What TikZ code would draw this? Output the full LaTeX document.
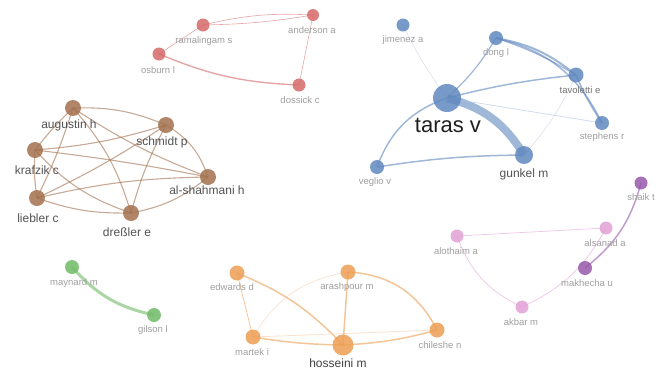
\documentclass[tikz,border=0pt]{standalone}
\usepackage{fontspec}
\setmainfont{Liberation Sans}
\usetikzlibrary{backgrounds}
\definecolor{redc}{RGB}{214,104,104}
\definecolor{bluec}{RGB}{96,136,190}
\definecolor{brownc}{RGB}{162,112,78}
\definecolor{pinkc}{RGB}{226,160,212}
\definecolor{purpc}{RGB}{150,88,170}
\definecolor{greenc}{RGB}{112,186,102}
\definecolor{orangec}{RGB}{236,158,84}
\begin{document}
\begin{tikzpicture}[x=1pt,y=-1pt,
    dot/.style={circle,inner sep=0pt,minimum size=#1,fill opacity=0.85},
    lab/.style={text=black!38,font=\fontsize{9.5}{10}\selectfont,inner sep=0pt},
    mid/.style={text=black!68,font=\fontsize{12}{13}\selectfont,inner sep=0pt},
    link/.style={line width=#1,opacity=0.6}]
\useasboundingbox (0,0) rectangle (655,373);

% red group
\node [dot=13pt,fill=redc] (ramalingam) at (203,25) {};
\node [dot=12pt,fill=redc] (anderson) at (313,15) {};
\node [dot=13pt,fill=redc] (osburn) at (159,54) {};
\node [dot=13pt,fill=redc] (dossick) at (299,85) {};
\node [lab] (ramalingam-l) at (204,41) {ramalingam s};
\node [lab] (anderson-l) at (312,30) {anderson a};
\node [lab] (osburn-l) at (158,70) {osburn l};
\node [lab] (dossick-l) at (300,100) {dossick c};

% blue group
\node [dot=28pt,fill=bluec] (taras) at (447,98) {};
\node [dot=18pt,fill=bluec] (gunkel) at (524,155) {};
\node [dot=13pt,fill=bluec] (jimenez) at (403,25) {};
\node [dot=14pt,fill=bluec] (dong) at (496,38) {};
\node [dot=15pt,fill=bluec] (tavoletti) at (576,75) {};
\node [dot=14pt,fill=bluec] (stephens) at (602,123) {};
\node [dot=14pt,fill=bluec] (veglio) at (377,167) {};
\node [inner sep=0pt,text=black!88,font=\fontsize{22}{24}\selectfont] (taras-l) at (448,125) {taras v};
\node [mid] (gunkel-l) at (524,174) {gunkel m};
\node [lab] (jimenez-l) at (403,40) {jimenez a};
\node [lab] (dong-l) at (496,53) {dong l};
\node [lab,text=black!55] (tavoletti-l) at (580,90) {tavoletti e};
\node [lab] (stephens-l) at (602,137) {stephens r};
\node [lab] (veglio-l) at (375,182) {veglio v};

% brown group
\node [dot=16pt,fill=brownc] (augustin) at (73,108) {};
\node [dot=16pt,fill=brownc] (schmidt) at (166,125) {};
\node [dot=16pt,fill=brownc] (krafzik) at (35,150) {};
\node [dot=16pt,fill=brownc] (alshahmani) at (208,177) {};
\node [dot=16pt,fill=brownc] (liebler) at (37,198) {};
\node [dot=16pt,fill=brownc] (dressler) at (131,213) {};
\node [mid] (augustin-l) at (69,125) {augustin h};
\node [mid] (schmidt-l) at (162,142) {schmidt p};
\node [mid] (krafzik-l) at (37,170) {krafzik c};
\node [mid] (alshahmani-l) at (207,190) {al-shahmani h};
\node [mid] (liebler-l) at (38,218) {liebler c};
\node [mid] (dressler-l) at (127,232) {dreßler e};

% pink and purple group
\node [dot=13pt,fill=purpc] (shaik) at (641,183) {};
\node [dot=13pt,fill=pinkc] (alsanad) at (606,228) {};
\node [dot=13pt,fill=pinkc] (alothaim) at (457,236) {};
\node [dot=14pt,fill=purpc] (makhecha) at (585,268) {};
\node [dot=13pt,fill=pinkc] (akbar) at (522,307) {};
\node [lab] (shaik-l) at (641,197) {shaik t};
\node [lab] (alsanad-l) at (605,243) {alsanad a};
\node [lab] (alothaim-l) at (456,251) {alothaim a};
\node [lab] (makhecha-l) at (587,283) {makhecha u};
\node [lab] (akbar-l) at (521,322) {akbar m};

% green group
\node [dot=14pt,fill=greenc] (maynard) at (72,267) {};
\node [dot=14pt,fill=greenc] (gilson) at (154,315) {};
\node [lab] (maynard-l) at (74,283) {maynard m};
\node [lab] (gilson-l) at (153,330) {gilson l};

% orange group
\node [dot=15pt,fill=orangec] (edwards) at (237,273) {};
\node [dot=15pt,fill=orangec] (arashpour) at (348,272) {};
\node [dot=15pt,fill=orangec] (martek) at (253,337) {};
\node [dot=21pt,fill=orangec] (hosseini) at (343,345) {};
\node [dot=15pt,fill=orangec] (chileshe) at (437,330) {};
\node [lab] (edwards-l) at (232,287) {edwards d};
\node [lab] (arashpour-l) at (347,287) {arashpour m};
\node [lab] (martek-l) at (252,352) {martek i};
\node [mid,text=black!75] (hosseini-l) at (338,363) {hosseini m};
\node [lab] (chileshe-l) at (440,345) {chileshe n};

\begin{scope}[on background layer]
  \draw [redc,link=0.6] (ramalingam.center) to[bend left=8] (anderson.center);
  \draw [redc,link=0.6] (ramalingam.center) to[bend right=4] (anderson.center);
  \draw [redc,link=0.6] (osburn.center) -- (ramalingam.center);
  \draw [redc,link=1.4] (osburn.center) to[bend right=10] (dossick.center);
  \draw [redc,link=0.6] (anderson.center) -- (dossick.center);

  \draw [bluec,link=8] (taras.center) to[bend left=22] (gunkel.center);
  \draw [bluec,link=1.5] (taras.center) to[bend right=25] (veglio.center);
  \draw [bluec,link=1.5] (veglio.center) to[bend left=4] (gunkel.center);
  \draw [bluec,link=1.2] (taras.center) to[bend right=8] (dong.center);
  \draw [bluec,link=1.5] (taras.center) to[bend left=4] (tavoletti.center);
  \draw [bluec!50,link=0.8] (taras.center) -- (stephens.center);
  \draw [bluec!40,link=0.6] (taras.center) to[bend left=5] (jimenez.center);
  \draw [bluec,link=2] (dong.center) to[bend left=14] (tavoletti.center);
  \draw [bluec,link=1.2] (dong.center) to[bend left=6] (tavoletti.center);
  \draw [bluec,link=1.5] (dong.center) to[bend left=25] (stephens.center);
  \draw [bluec,link=1.5] (tavoletti.center) to[bend right=5] (stephens.center);
  \draw [bluec!40,link=0.6] (gunkel.center) to[bend right=8] (tavoletti.center);

  \foreach \a/\b/\t in {augustin/schmidt/12,augustin/krafzik/-4,augustin/liebler/4,
      augustin/alshahmani/-6,augustin/dressler/12,schmidt/krafzik/6,
      schmidt/liebler/4,schmidt/dressler/-6,schmidt/alshahmani/20,
      krafzik/liebler/-6,krafzik/alshahmani/2,krafzik/dressler/-14,
      liebler/alshahmani/6,liebler/dressler/-10,dressler/alshahmani/-14}
    \draw [brownc,link=1.1] (\a.center) to[bend left=\t] (\b.center);

  \draw [pinkc,link=0.7] (alothaim.center) -- (alsanad.center);
  \draw [pinkc,link=0.7] (alothaim.center) to[bend right=22] (akbar.center);
  \draw [pinkc,link=0.7] (akbar.center) to[bend right=18] (alsanad.center);
  \draw [purpc,link=1.5] (makhecha.center) to[bend right=18] (shaik.center);

  \draw [greenc,link=3] (maynard.center) to[bend right=18] (gilson.center);

  \draw [orangec,link=0.8] (edwards.center) -- (martek.center);
  \draw [orangec,link=1.5] (edwards.center) to[bend left=12] (hosseini.center);
  \draw [orangec!50,link=0.7] (martek.center) to[bend left=25] (arashpour.center);
  \draw [orangec,link=1.5] (arashpour.center) -- (hosseini.center);
  \draw [orangec,link=1.5] (arashpour.center) to[bend left=30] (chileshe.center);
  \draw [orangec,link=1.5] (martek.center) to[bend right=4] (hosseini.center);
  \draw [orangec!50,link=0.8] (martek.center) -- (chileshe.center);
  \draw [orangec,link=1.5] (hosseini.center) to[bend right=6] (chileshe.center);
\end{scope}
\end{tikzpicture}
\end{document}
